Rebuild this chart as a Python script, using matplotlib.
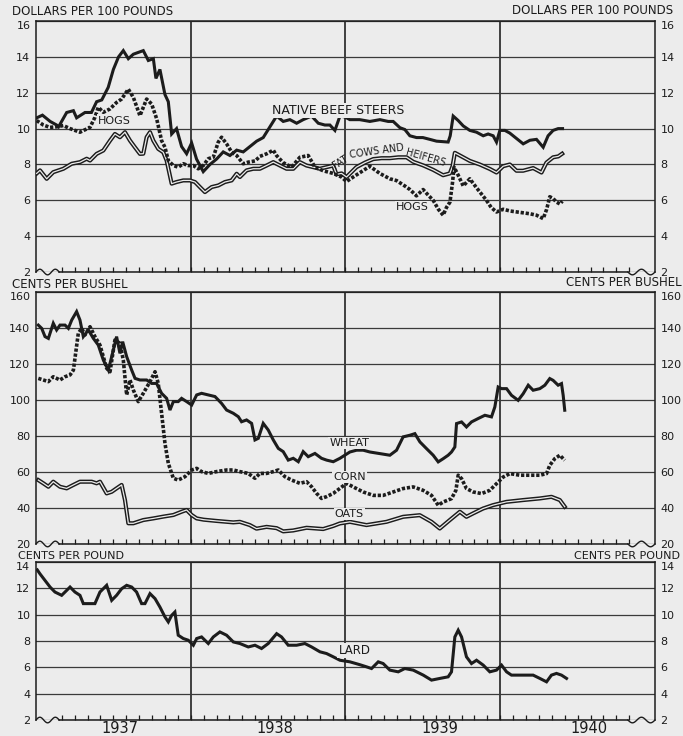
"""
Farm prices 1937-1940: livestock, grains and lard, weekly quotations.
Redrawn from a scanned three-panel chart. x is months since January 1937.
"""

import matplotlib

matplotlib.use("Agg")
import matplotlib.pyplot as plt
import numpy as np

BG = "#ececec"
INK = "#1c1c1c"

# Panel 1: dollars per 100 pounds
beef_x = [0.05, 0.5, 1.1, 1.6, 1.75, 2.38, 2.9, 3.15, 3.8, 4.3, 4.7, 5.1, 5.6, 6.0, 6.4, 6.77,
          7.16, 7.55, 7.93, 8.32, 8.71, 9.1, 9.3, 9.61, 10.0, 10.26, 10.52, 10.9, 11.29, 11.68,
          12.07, 12.45, 12.97, 13.49, 14.0, 14.52, 15.04, 15.56, 16.07, 16.59, 17.11, 17.62,
          18.14, 18.66, 19.17, 19.69, 20.21, 20.72, 21.37, 21.89, 22.4, 22.79, 23.18, 23.57,
          23.95, 24.34, 25.1, 25.89, 26.67, 27.31, 27.7, 28.22, 28.6, 28.99, 29.51, 30.0, 30.54,
          31.06, 31.96, 32.12, 32.35, 32.74, 33.13, 33.64, 34.16, 34.68, 35.06, 35.45, 35.71,
          35.97, 36.36, 36.74, 37.26, 37.78, 38.3, 38.81, 39.33, 39.71, 40.1, 40.49, 40.83]
beef_y = [10.6, 10.75, 10.4, 10.2, 10.1, 10.9, 11.0, 10.6, 10.9, 10.9, 11.5, 11.6, 12.3, 13.3,
          14.0, 14.35, 13.9, 14.15, 14.25, 14.35, 13.8, 13.9, 12.8, 13.3, 11.9, 11.5, 9.7, 10.0,
          9.0, 8.6, 9.2, 8.3, 7.6, 8.0, 8.3, 8.7, 8.5, 8.8, 8.7, 9.0, 9.3, 9.5, 10.1, 10.7, 10.4,
          10.5, 10.3, 10.5, 10.7, 10.3, 10.2, 10.2, 9.9, 10.7, 10.65, 10.5, 10.5, 10.4, 10.5,
          10.4, 10.4, 10.05, 9.95, 9.6, 9.5, 9.5, 9.4, 9.3, 9.25, 9.6, 10.7, 10.45, 10.15, 9.9,
          9.8, 9.6, 9.7, 9.6, 9.25, 9.9, 9.9, 9.75, 9.45, 9.15, 9.35, 9.4, 8.96, 9.6, 9.9, 10.0,
          10.0]

hogs_x = [0.05, 0.57, 1.08, 1.6, 2.12, 2.64, 3.41, 3.93, 4.19, 4.57, 4.83, 5.22, 5.74, 6.25,
          6.64, 7.16, 7.55, 8.06, 8.58, 8.97, 9.36, 9.74, 10.0, 10.26, 10.65, 11.03, 11.42,
          11.81, 12.2, 12.58, 12.97, 13.36, 13.75, 14.13, 14.39, 14.78, 15.17, 15.56, 16.07,
          16.46, 17.0, 17.36, 17.9, 18.4, 18.65, 19.17, 19.82, 20.46, 21.11, 21.63, 22.27,
          23.05, 23.69, 24.08, 24.6, 25.24, 25.89, 26.66, 27.44, 27.96, 28.6, 29.0, 29.5, 30.02,
          30.4, 30.8, 31.2, 31.57, 31.83, 32.1, 32.3, 32.42, 32.74, 33.13, 33.64, 34.16, 34.6,
          34.93, 35.3, 35.71, 36.23, 36.8, 37.3, 38.3, 38.81, 39.33, 39.6, 39.84, 40.1, 40.36,
          40.62, 40.82]
hogs_y = [10.45, 10.2, 10.07, 10.1, 10.17, 10.0, 9.8, 9.98, 10.07, 10.63, 11.19, 10.91, 11.1,
          11.46, 11.65, 12.2, 11.74, 10.72, 11.65, 11.37, 10.54, 9.33, 8.96, 8.22, 7.94, 7.85,
          8.04, 7.94, 7.94, 7.76, 7.94, 8.32, 8.41, 9.24, 9.52, 9.15, 8.69, 8.5, 8.04, 8.13,
          8.2, 8.45, 8.6, 8.8, 8.5, 8.1, 7.85, 8.4, 8.5, 7.85, 7.65, 7.5, 7.3, 7.05, 7.3, 7.6,
          7.9, 7.5, 7.2, 7.1, 6.8, 6.6, 6.25, 6.6, 6.3, 6.0, 5.5, 5.17, 5.6, 5.9, 7.0, 7.85, 7.4,
          6.8, 7.2, 6.7, 6.3, 6.0, 5.6, 5.35, 5.5, 5.4, 5.35, 5.25, 5.17, 4.98, 5.5, 6.2, 6.1,
          5.9, 5.8, 5.95]

cows_x = [0.05, 0.31, 0.83, 1.34, 2.12, 2.77, 3.41, 3.93, 4.19, 4.7, 5.22, 5.74, 6.12, 6.51,
          6.9, 7.29, 7.67, 8.06, 8.32, 8.58, 8.84, 9.1, 9.48, 9.87, 10.13, 10.52, 10.9, 11.42,
          11.94, 12.33, 12.71, 13.1, 13.62, 14.14, 14.65, 15.17, 15.56, 15.81, 16.33, 16.85,
          17.36, 17.88, 18.4, 18.92, 19.43, 19.95, 20.46, 20.98, 21.5, 22.01, 22.53, 23.05, 23.3,
          23.7, 24.08, 24.5, 24.85, 25.5, 26.15, 26.8, 27.44, 28.1, 28.73, 29.25, 30.02, 30.8,
          31.57, 32.09, 32.3, 32.48, 32.87, 33.64, 34.41, 35.19, 35.71, 36.22, 36.74, 37.26,
          37.77, 38.55, 39.2, 39.58, 40.1, 40.5, 40.8]
cows_y = [7.5, 7.67, 7.2, 7.57, 7.76, 8.04, 8.13, 8.32, 8.22, 8.59, 8.78, 9.33, 9.7, 9.52, 9.8,
          9.33, 8.96, 8.59, 8.6, 9.52, 9.8, 9.33, 8.87, 8.68, 8.22, 6.93, 7.02, 7.11, 7.11, 7.02,
          6.74, 6.46, 6.74, 6.83, 7.02, 7.11, 7.48, 7.3, 7.67, 7.76, 7.76, 7.94, 8.13, 7.94,
          7.76, 7.76, 8.13, 7.94, 7.85, 7.76, 7.85, 7.94, 7.45, 7.5, 7.3, 7.6, 7.85, 8.1, 8.3,
          8.35, 8.35, 8.4, 8.4, 8.15, 7.95, 7.7, 7.4, 7.5, 7.9, 8.65, 8.5, 8.2, 8.0, 7.75, 7.55,
          7.9, 8.0, 7.65, 7.65, 7.8, 7.55, 8.1, 8.4, 8.45, 8.6]

# Panel 2: cents per bushel
wheat_x = [0.18, 0.44, 0.7, 0.96, 1.34, 1.6, 1.86, 2.25, 2.51, 2.77, 3.15, 3.41, 3.67, 4.06,
           4.45, 4.83, 5.22, 5.61, 5.87, 6.25, 6.51, 6.72, 7.03, 7.42, 7.68, 8.06, 8.58, 8.97,
           9.35, 9.74, 10.13, 10.39, 10.65, 11.03, 11.29, 11.68, 12.07, 12.46, 12.84, 13.36,
           13.88, 14.39, 14.78, 15.3, 15.69, 15.94, 16.33, 16.72, 16.98, 17.24, 17.62, 18.01,
           18.4, 18.79, 19.17, 19.56, 19.95, 20.34, 20.72, 21.11, 21.63, 22.14, 22.53, 23.05,
           23.57, 24.34, 24.86, 25.37, 25.89, 26.67, 27.44, 27.96, 28.47, 28.99, 29.38, 29.77,
           30.28, 30.8, 31.19, 31.58, 31.96, 32.22, 32.48, 32.61, 33.0, 33.38, 33.77, 34.29,
           34.81, 35.32, 35.58, 35.84, 36.1, 36.49, 36.87, 37.39, 37.78, 38.17, 38.55, 39.07,
           39.46, 39.84, 40.1, 40.49, 40.75, 40.88, 41.0]
wheat_y = [141.6, 139.8, 135.2, 134.2, 142.6, 138.9, 141.6, 141.6, 139.8, 144.4, 149.1, 144.4,
           135.2, 138.9, 134.2, 130.5, 122.2, 116.6, 124.1, 135.2, 125.9, 132.4, 124.1, 116.6,
           112.0, 111.1, 111.1, 109.2, 109.2, 103.7, 100.9, 94.4, 99.1, 99.1, 100.9, 99.1, 97.2,
           102.8, 103.7, 102.8, 101.9, 98.1, 94.4, 92.6, 90.7, 87.9, 88.9, 87.0, 77.8, 78.7, 87.0,
           83.3, 77.8, 73.1, 71.3, 66.6, 67.6, 65.7, 71.3, 68.5, 70.3, 67.6, 66.6, 65.7, 67.6,
           71.1, 72.1, 72.1, 71.1, 70.2, 69.3, 72.1, 79.5, 80.4, 81.3, 76.7, 73.0, 69.3, 65.6,
           67.4, 69.3, 71.1, 73.9, 86.9, 87.8, 85.0, 87.8, 89.7, 91.5, 90.6, 96.1, 107.2, 106.3,
           106.3, 102.6, 99.8, 103.5, 108.2, 105.4, 106.3, 108.2, 111.9, 110.9, 108.2, 109.1,
           102.6, 94.3]

corn_x = [0.18, 0.57, 0.96, 1.34, 1.86, 2.25, 2.64, 2.9, 3.28, 3.54, 3.8, 4.19, 4.57, 4.96,
          5.48, 5.74, 6.12, 6.51, 6.77, 7.03, 7.29, 7.55, 7.93, 8.32, 8.84, 9.23, 9.48, 9.74,
          10.0, 10.26, 10.65, 11.03, 11.55, 12.07, 12.46, 12.84, 13.36, 14.0, 14.78, 15.3, 15.81,
          16.46, 16.98, 17.36, 17.88, 18.4, 18.79, 19.3, 19.82, 20.46, 20.98, 21.37, 21.76,
          22.14, 22.53, 23.05, 23.57, 24.08, 24.6, 25.37, 26.15, 26.92, 27.7, 28.47, 29.25,
          30.02, 30.67, 31.19, 31.57, 32.22, 32.56, 32.74, 33.0, 33.38, 33.9, 34.55, 35.19,
          35.71, 36.23, 36.74, 37.52, 38.3, 39.07, 39.59, 39.84, 40.23, 40.62, 41.0]
corn_y = [112.0, 111.1, 110.2, 112.9, 111.1, 112.9, 113.9, 116.6, 137.0, 139.8, 136.1, 140.7,
          135.2, 130.5, 117.6, 115.7, 133.3, 131.5, 122.2, 102.8, 111.1, 105.5, 99.1, 103.7,
          110.2, 115.7, 109.2, 92.6, 75.9, 64.8, 56.5, 55.5, 57.4, 61.1, 62.0, 60.2, 59.2, 60.2,
          61.1, 61.1, 60.2, 59.2, 56.5, 59.2, 59.2, 60.2, 61.1, 57.4, 55.5, 53.7, 54.6, 51.8,
          48.1, 45.3, 46.3, 48.1, 50.9, 53.7, 51.7, 48.9, 47.0, 47.0, 48.9, 50.8, 51.7, 49.8,
          47.0, 41.5, 43.3, 45.2, 49.8, 58.2, 56.3, 50.8, 48.9, 48.0, 49.8, 53.5, 57.2, 59.1,
          58.2, 58.2, 58.2, 59.1, 63.7, 67.4, 69.3, 66.5]

oats_x = [0.18, 0.57, 0.96, 1.34, 1.86, 2.38, 2.9, 3.41, 3.93, 4.32, 4.7, 4.96, 5.48, 5.87,
          6.25, 6.64, 6.9, 7.16, 7.55, 8.32, 9.1, 9.87, 10.65, 11.29, 11.68, 12.07, 12.46, 13.0,
          14.0, 15.3, 15.81, 16.58, 17.1, 17.88, 18.66, 19.17, 19.94, 20.98, 22.27, 23.05,
          23.56, 24.34, 25.63, 27.18, 28.47, 29.76, 30.67, 31.31, 32.09, 32.87, 33.38, 33.9,
          34.67, 35.45, 36.48, 37.77, 39.07, 39.97, 40.62, 41.0]
oats_y = [55.5, 53.7, 51.8, 54.6, 51.8, 50.9, 52.8, 54.6, 54.6, 54.6, 53.7, 54.6, 48.1, 49.0,
          50.9, 52.8, 44.4, 31.5, 31.5, 33.3, 34.2, 35.2, 36.1, 37.9, 38.9, 36.1, 34.2, 33.5,
          32.8, 32.0, 32.3, 30.5, 28.5, 29.5, 28.8, 27.0, 27.5, 29.0, 28.3, 30.0, 31.4, 32.3,
          30.5, 32.3, 35.1, 36.0, 32.3, 28.6, 33.3, 37.9, 35.1, 37.0, 39.7, 41.6, 43.4, 44.4,
          45.3, 46.2, 44.4, 40.7]

# Panel 3: cents per pound
lard_x = [0.1, 0.31, 0.7, 1.09, 1.47, 1.99, 2.25, 2.64, 3.02, 3.41, 3.67, 4.06, 4.57, 4.96,
          5.48, 5.87, 6.25, 6.64, 7.03, 7.42, 7.8, 8.19, 8.45, 8.84, 9.23, 9.61, 10.0, 10.26,
          10.52, 10.77, 11.03, 11.42, 11.81, 12.2, 12.46, 12.84, 13.36, 13.75, 14.26, 14.78,
          15.3, 15.81, 16.46, 16.98, 17.49, 18.01, 18.66, 19.04, 19.56, 20.21, 20.85, 21.37,
          22.02, 22.53, 23.05, 23.57, 24.34, 25.12, 25.63, 26.02, 26.54, 26.92, 27.44, 28.09,
          28.6, 29.25, 30.03, 30.67, 31.32, 31.96, 32.22, 32.48, 32.74, 33.0, 33.38, 33.77,
          34.16, 34.68, 35.19, 35.71, 36.1, 36.49, 36.87, 37.39, 38.04, 38.55, 39.07, 39.59,
          39.97, 40.36, 40.75, 41.14]
lard_y = [13.4, 13.1, 12.6, 12.1, 11.72, 11.47, 11.72, 12.1, 11.72, 11.47, 10.84, 10.84, 10.84,
          11.72, 12.23, 11.09, 11.47, 11.97, 12.23, 12.1, 11.72, 10.84, 10.84, 11.6, 11.22,
          10.58, 9.83, 9.45, 9.95, 10.2, 8.44, 8.19, 8.06, 7.68, 8.19, 8.31, 7.81, 8.31, 8.69,
          8.44, 7.93, 7.81, 7.55, 7.68, 7.43, 7.81, 8.56, 8.31, 7.68, 7.68, 7.81, 7.55, 7.18,
          7.05, 6.8, 6.54, 6.42, 6.2, 6.04, 5.91, 6.42, 6.29, 5.79, 5.66, 5.91, 5.79, 5.41, 5.03,
          5.16, 5.28, 5.66, 8.31, 8.82, 8.31, 6.8, 6.29, 6.54, 6.17, 5.66, 5.79, 6.17, 5.66, 5.41,
          5.41, 5.41, 5.41, 5.16, 4.9, 5.41, 5.54, 5.41, 5.16]

year_labels = ["1937", "1938", "1939", "1940"]
year_label_x = [6.5, 18.5, 31.3, 42.9]


def solid(ax, x, y):
    ax.plot(x, y, color=INK, lw=2.2, solid_joinstyle="miter", zorder=4)


def dotted(ax, x, y):
    ax.plot(x, y, color=INK, lw=2.6, linestyle=(0, (0.9, 0.5)), dash_capstyle="butt", zorder=4)


def double(ax, x, y):
    ax.plot(x, y, color=INK, lw=3.0, zorder=3)
    ax.plot(x, y, color=BG, lw=0.9, zorder=3.5)


def frame(ax, ylim, step):
    ax.set_facecolor(BG)
    ax.set_xlim(0, 48)
    ax.set_ylim(*ylim)
    ax.set_yticks(np.arange(ylim[0], ylim[1] + step / 2, step))
    ax.set_xticks([12, 24, 36])
    ax.set_xticks(np.arange(2, 47), minor=True)
    ax.tick_params(axis="x", which="both", direction="in", length=3.5, width=0.9,
                   labelbottom=False, color=INK)
    ax.tick_params(axis="y", which="both", length=0, labelleft=True, labelright=True,
                   pad=4, labelsize=8, labelcolor=INK)
    # the top value sits just under the frame, the bottom one a touch up
    yt = ax.yaxis.get_major_ticks()
    for lab in (yt[-1].label1, yt[-1].label2):
        lab.set_verticalalignment("top")
    for lab in (yt[0].label1, yt[0].label2):
        lab.set_verticalalignment("center_baseline")
    ax.grid(axis="y", color="#3a3a3a", lw=0.9, zorder=1)
    ax.grid(axis="x", color="#222222", lw=1.2, zorder=1)
    for s in ("left", "right", "top"):
        ax.spines[s].set_color(INK)
        ax.spines[s].set_linewidth(1.1)
    ax.spines["bottom"].set_visible(False)
    # bottom edge with the wavy scale break at both corners
    h_px = ax.get_position().height * fig.get_figheight() * fig.dpi
    amp = 2.8 / h_px
    t = np.linspace(0, 1, 40)
    wave = amp * np.sin(3 * np.pi * t)
    tr = ax.get_xaxis_transform()
    ax.plot(t * 1.8, wave, color=INK, lw=1.0, transform=tr, clip_on=False)
    ax.plot([1.8, 45.9], [0, 0], color=INK, lw=1.1, transform=tr, clip_on=False)
    ax.plot(45.9 + t * 2.1, -wave, color=INK, lw=1.0, transform=tr, clip_on=False)


def label(ax, x, y, text, size=8.5, rot=0):
    ax.text(x, y, text, fontsize=size, color=INK, ha="center", va="center", rotation=rot,
            bbox=dict(facecolor=BG, edgecolor="none", pad=0.8), zorder=6)


plt.rcParams["font.family"] = ["DejaVu Sans"]
fig = plt.figure(figsize=(6.83, 7.36), dpi=100, facecolor=BG)

ax1 = fig.add_axes([0.0527, 0.6304, 0.9063, 0.3410])
ax2 = fig.add_axes([0.0527, 0.2609, 0.9063, 0.3424])
ax3 = fig.add_axes([0.0527, 0.0217, 0.9063, 0.2147])

# 1. Livestock
frame(ax1, (2, 16), 2)
solid(ax1, beef_x, beef_y)
dotted(ax1, hogs_x, hogs_y)
double(ax1, cows_x, cows_y)
label(ax1, 23.4, 11.0, "NATIVE BEEF STEERS", size=9)
label(ax1, 6.1, 10.45, "HOGS", size=8)
label(ax1, 29.2, 5.6, "HOGS", size=8)
ax1.text(23.6, 8.15, "FAT", fontsize=7, color=INK, rotation=32, ha="center", va="center", zorder=6)
ax1.text(26.4, 8.75, "COWS AND", fontsize=7, color=INK, rotation=8, ha="center", va="center", zorder=6)
ax1.text(30.2, 8.35, "HEIFERS", fontsize=7, color=INK, rotation=-16, ha="center", va="center", zorder=6)

# 2. Grains
frame(ax2, (20, 160), 20)
solid(ax2, wheat_x, wheat_y)
dotted(ax2, corn_x, corn_y)
double(ax2, oats_x, oats_y)
label(ax2, 24.3, 76, "WHEAT", size=8)
label(ax2, 24.3, 57, "CORN", size=8)
label(ax2, 24.3, 36.7, "OATS", size=8)

# 3. Lard
frame(ax3, (2, 14), 2)
solid(ax3, lard_x, lard_y)
label(ax3, 24.7, 7.3, "LARD", size=8.5)

for yl, yx in zip(year_labels, year_label_x):
    ax3.text(yx, -0.098, yl, transform=ax3.get_xaxis_transform(), fontsize=10.5, color=INK,
             ha="center", va="bottom")

# unit captions above each panel, both sides
fig.text(0.0176, 0.9837, "DOLLARS PER 100 POUNDS", fontsize=8.5, color=INK, va="center")
fig.text(0.985, 0.9864, "DOLLARS PER 100 POUNDS", fontsize=8.5, color=INK, va="center", ha="right")
fig.text(0.0176, 0.6141, "CENTS PER BUSHEL", fontsize=8.5, color=INK, va="center")
fig.text(0.998, 0.6155, "CENTS PER BUSHEL", fontsize=8.5, color=INK, va="center", ha="right")
fig.text(0.026, 0.2448, "CENTS PER POUND", fontsize=8, color=INK, va="center")
fig.text(0.9956, 0.2452, "CENTS PER POUND", fontsize=8, color=INK, va="center", ha="right")

fig.savefig("out.png", dpi=100, facecolor=BG)
